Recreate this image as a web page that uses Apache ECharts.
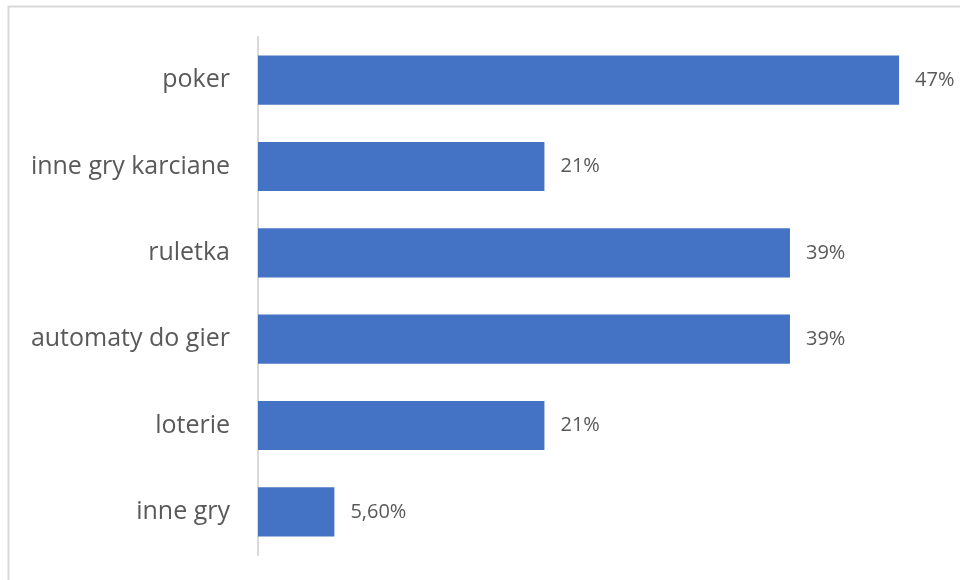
<!DOCTYPE html>
<html><head><meta charset="utf-8">
<script src="https://cdn.jsdelivr.net/npm/echarts@6/dist/echarts.min.js"></script>
<style>html,body{margin:0;padding:0;background:#fff}#c{width:960px;height:580px}</style>
</head><body><div id="c"></div>
<script>
const categories = ["poker", "inne gry karciane", "ruletka", "automaty do gier", "loterie", "inne gry"];
const values = [0.47, 0.21, 0.39, 0.39, 0.21, 0.056];
const valueLabels = ["47%", "21%", "39%", "39%", "21%", "5,60%"];

const chart = echarts.init(document.getElementById('c'));
chart.setOption({
  animation: false,
  backgroundColor: '#fff',
  graphic: [{
    type: 'rect', shape: {x: 8.5, y: 6.5, width: 1000, height: 1000},
    style: {fill: 'none', stroke: '#d9d9d9', lineWidth: 2}, silent: true
  }],
  grid: {left: 258, top: 37, width: 682, height: 518, containLabel: false},
  xAxis: {type: 'value', min: 0, max: 0.5, show: false},
  yAxis: {
    type: 'category', data: categories, inverse: true,
    axisLine: {show: true, lineStyle: {color: '#d9d9d9', width: 2}},
    axisTick: {show: false},
    axisLabel: {color: '#595959', fontFamily: 'Open Sans', fontSize: 25, margin: 28}
  },
  series: [{
    type: 'bar', data: values, barCategoryGap: '43%',
    itemStyle: {color: '#4472C4'},
    label: {
      show: true, position: 'right', distance: 16,
      color: '#595959', fontFamily: 'Open Sans', fontSize: 20,
      formatter: p => valueLabels[p.dataIndex]
    }
  }]
});
</script></body></html>
